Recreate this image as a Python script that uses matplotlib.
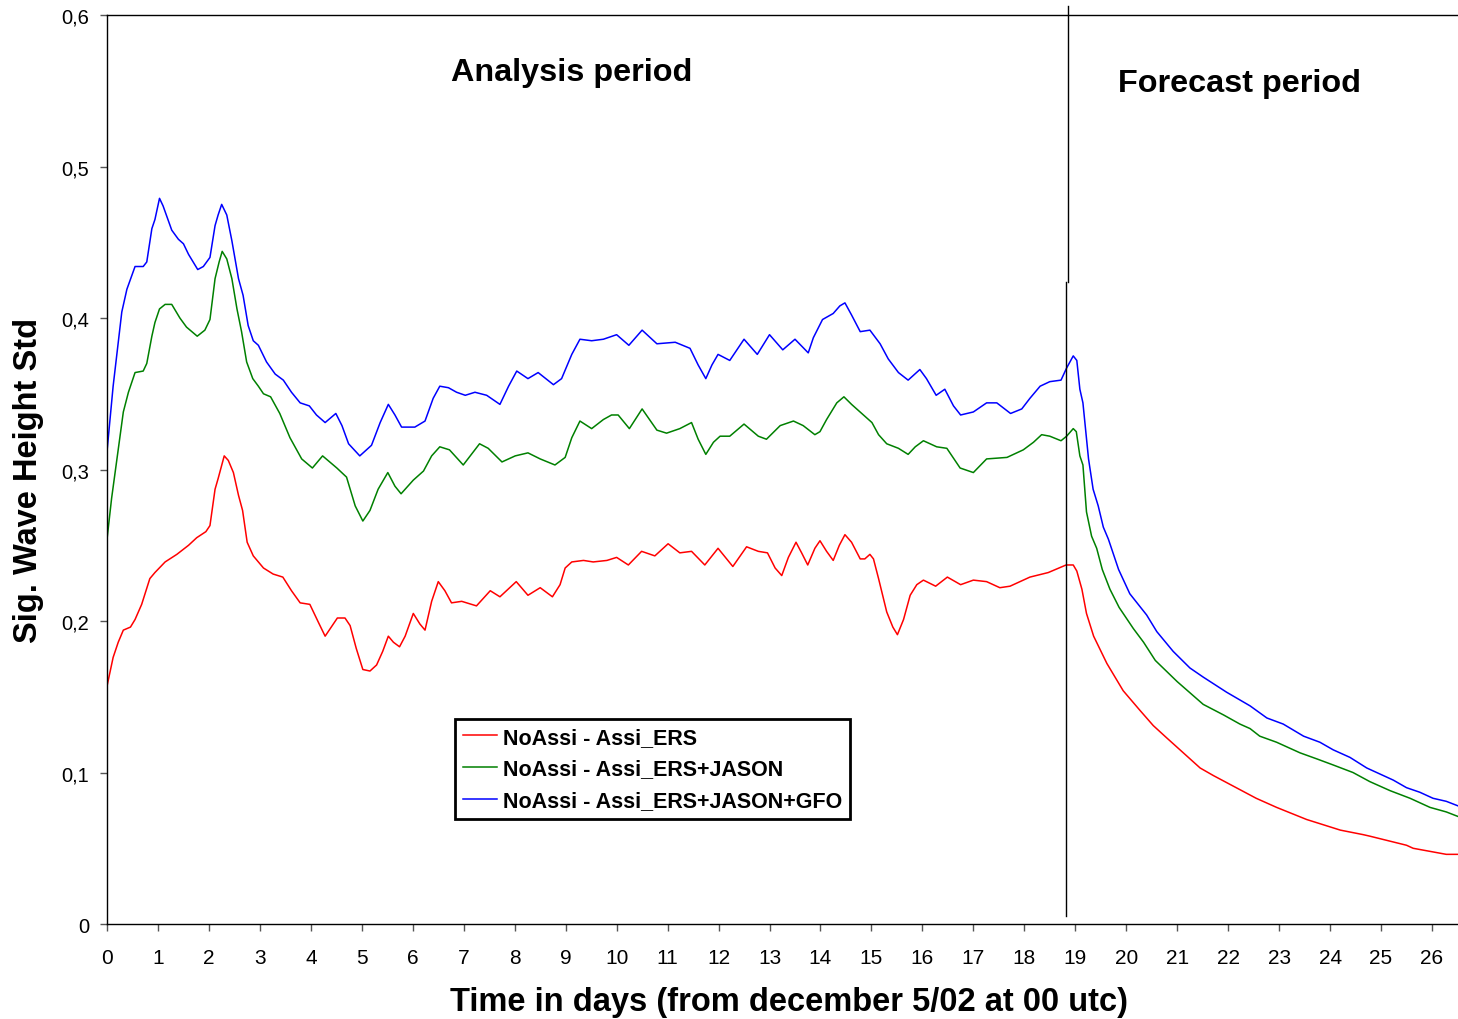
import matplotlib
matplotlib.use("Agg")
import matplotlib.pyplot as plt

plt.rcParams['font.family'] = ['Liberation Sans', 'DejaVu Sans']

# NoAssi - Assi_ERS
red_days = [0.0, 0.12, 0.22, 0.32, 0.46, 0.55, 0.68, 0.84, 0.94, 1.14, 1.37, 1.60, 1.76, 1.94,
            2.02, 2.12, 2.18, 2.30, 2.38, 2.48, 2.58, 2.66, 2.75, 2.87, 3.07, 3.26, 3.45, 3.62,
            3.79, 3.98, 4.15, 4.28, 4.52, 4.67, 4.77, 4.89, 5.02, 5.16, 5.29, 5.41, 5.52, 5.62,
            5.74, 5.85, 6.01, 6.14, 6.24, 6.37, 6.50, 6.63, 6.76, 6.96, 7.25, 7.52, 7.71, 8.03,
            8.26, 8.50, 8.74, 8.89, 8.99, 9.12, 9.35, 9.54, 9.81, 10.00, 10.23, 10.49, 10.75,
            11.01, 11.24, 11.47, 11.73, 11.99, 12.28, 12.55, 12.78, 12.96, 13.11, 13.24, 13.37,
            13.52, 13.63, 13.75, 13.89, 13.99, 14.12, 14.25, 14.37, 14.48, 14.61, 14.78, 14.87,
            14.97, 15.04, 15.14, 15.30, 15.42, 15.51, 15.63, 15.76, 15.89, 16.02, 16.26, 16.49,
            16.75, 17.00, 17.26, 17.52, 17.72, 18.11, 18.47, 18.82, 18.96, 19.03, 19.13, 19.22,
            19.36, 19.62, 19.94, 20.27, 20.53, 20.79, 21.12, 21.45, 21.71, 22.16, 22.55, 22.95,
            23.54, 24.20, 24.65, 24.78, 25.50, 25.63, 25.96, 26.28, 26.51]
red_std = [0.157, 0.176, 0.186, 0.194, 0.196, 0.201, 0.211, 0.228, 0.232, 0.239, 0.244, 0.250,
           0.255, 0.259, 0.263, 0.287, 0.294, 0.309, 0.306, 0.298, 0.283, 0.273, 0.252, 0.243,
           0.235, 0.231, 0.229, 0.220, 0.212, 0.211, 0.199, 0.190, 0.202, 0.202, 0.197, 0.182,
           0.168, 0.167, 0.171, 0.180, 0.190, 0.186, 0.183, 0.190, 0.205, 0.198, 0.194, 0.213,
           0.226, 0.220, 0.212, 0.213, 0.210, 0.220, 0.216, 0.226, 0.217, 0.222, 0.216, 0.224,
           0.235, 0.239, 0.240, 0.239, 0.240, 0.242, 0.237, 0.246, 0.243, 0.251, 0.245, 0.246,
           0.237, 0.248, 0.236, 0.249, 0.246, 0.245, 0.235, 0.230, 0.242, 0.252, 0.245, 0.237,
           0.248, 0.253, 0.246, 0.240, 0.250, 0.257, 0.252, 0.241, 0.241, 0.244, 0.241, 0.228,
           0.206, 0.196, 0.191, 0.201, 0.217, 0.224, 0.227, 0.223, 0.229, 0.224, 0.227, 0.226,
           0.222, 0.223, 0.229, 0.232, 0.237, 0.237, 0.233, 0.221, 0.205, 0.190, 0.172, 0.154,
           0.141, 0.131, 0.123, 0.113, 0.103, 0.098, 0.090, 0.083, 0.077, 0.069, 0.062, 0.059,
           0.058, 0.052, 0.050, 0.048, 0.046, 0.046]

# NoAssi - Assi_ERS+JASON
green_days = [0.0, 0.09, 0.19, 0.255, 0.32, 0.42, 0.55, 0.71, 0.78, 0.88, 0.94, 1.03, 1.14,
              1.27, 1.43, 1.56, 1.77, 1.92, 2.02, 2.12, 2.20, 2.26, 2.35, 2.45, 2.55, 2.64,
              2.74, 2.86, 2.97, 3.07, 3.21, 3.39, 3.59, 3.82, 4.03, 4.23, 4.51, 4.70, 4.87,
              5.02, 5.16, 5.32, 5.51, 5.65, 5.77, 6.01, 6.21, 6.37, 6.53, 6.72, 6.99, 7.31,
              7.48, 7.75, 8.01, 8.26, 8.50, 8.79, 8.99, 9.12, 9.28, 9.51, 9.74, 9.90, 10.03,
              10.25, 10.50, 10.79, 10.98, 11.24, 11.47, 11.60, 11.75, 11.90, 12.03, 12.22,
              12.50, 12.78, 12.94, 13.21, 13.47, 13.66, 13.89, 13.99, 14.12, 14.32, 14.46,
              14.61, 14.81, 15.01, 15.14, 15.30, 15.53, 15.72, 15.86, 16.02, 16.28, 16.48,
              16.74, 17.00, 17.26, 17.66, 17.98, 18.18, 18.34, 18.50, 18.72, 18.83, 18.96,
              19.02, 19.09, 19.15, 19.22, 19.32, 19.42, 19.53, 19.68, 19.86, 20.14, 20.34,
              20.57, 21.00, 21.51, 21.91, 22.23, 22.43, 22.62, 22.95, 23.28, 23.41, 23.74,
              24.06, 24.45, 24.78, 25.18, 25.57, 25.96, 26.28, 26.51]
green_std = [0.254, 0.281, 0.306, 0.322, 0.338, 0.351, 0.364, 0.365, 0.370, 0.388, 0.397,
             0.406, 0.409, 0.409, 0.400, 0.394, 0.388, 0.392, 0.399, 0.426, 0.437, 0.444,
             0.439, 0.426, 0.406, 0.391, 0.371, 0.360, 0.355, 0.350, 0.348, 0.337, 0.321,
             0.307, 0.301, 0.309, 0.301, 0.295, 0.276, 0.266, 0.273, 0.287, 0.298, 0.289,
             0.284, 0.293, 0.299, 0.309, 0.315, 0.313, 0.303, 0.317, 0.314, 0.305, 0.309,
             0.311, 0.307, 0.303, 0.308, 0.321, 0.332, 0.327, 0.333, 0.336, 0.336, 0.327,
             0.340, 0.326, 0.324, 0.327, 0.331, 0.320, 0.310, 0.318, 0.322, 0.322, 0.330,
             0.322, 0.320, 0.329, 0.332, 0.329, 0.323, 0.325, 0.333, 0.344, 0.348, 0.343,
             0.337, 0.331, 0.323, 0.317, 0.314, 0.310, 0.315, 0.319, 0.315, 0.314, 0.301,
             0.298, 0.307, 0.308, 0.313, 0.318, 0.323, 0.322, 0.319, 0.322, 0.327, 0.325,
             0.309, 0.303, 0.272, 0.256, 0.248, 0.234, 0.221, 0.209, 0.195, 0.186, 0.174,
             0.160, 0.145, 0.138, 0.132, 0.129, 0.124, 0.120, 0.115, 0.113, 0.109, 0.105,
             0.100, 0.094, 0.088, 0.083, 0.077, 0.074, 0.071]

# NoAssi - Assi_ERS+JASON+GFO
blue_days = [0.0, 0.12, 0.29, 0.39, 0.55, 0.71, 0.78, 0.88, 0.94, 1.03, 1.10, 1.27, 1.40,
             1.50, 1.60, 1.78, 1.89, 2.02, 2.12, 2.18, 2.25, 2.35, 2.45, 2.58, 2.67, 2.77,
             2.87, 2.97, 3.13, 3.30, 3.46, 3.62, 3.79, 3.97, 4.11, 4.28, 4.49, 4.61, 4.74,
             4.96, 5.19, 5.36, 5.52, 5.65, 5.78, 6.04, 6.24, 6.40, 6.53, 6.70, 6.86, 7.03,
             7.22, 7.45, 7.71, 7.88, 8.04, 8.26, 8.46, 8.76, 8.92, 9.12, 9.28, 9.51, 9.74,
             10.00, 10.24, 10.50, 10.79, 11.15, 11.44, 11.60, 11.75, 11.87, 11.99, 12.22,
             12.50, 12.76, 13.00, 13.26, 13.50, 13.76, 13.86, 14.04, 14.25, 14.38, 14.48,
             14.61, 14.78, 14.97, 15.17, 15.33, 15.53, 15.72, 15.95, 16.08, 16.27, 16.44,
             16.61, 16.75, 17.00, 17.26, 17.46, 17.73, 17.95, 18.11, 18.31, 18.50, 18.72,
             18.83, 18.96, 19.03, 19.09, 19.15, 19.26, 19.35, 19.45, 19.55, 19.65, 19.85,
             20.07, 20.40, 20.60, 20.92, 21.25, 21.51, 21.97, 22.43, 22.76, 23.08, 23.48,
             23.80, 24.06, 24.39, 24.72, 24.98, 25.24, 25.50, 25.76, 26.02, 26.28, 26.51]
blue_std = [0.312, 0.355, 0.404, 0.419, 0.434, 0.434, 0.437, 0.459, 0.465, 0.479, 0.474,
            0.458, 0.452, 0.449, 0.442, 0.432, 0.434, 0.440, 0.461, 0.468, 0.475, 0.468,
            0.451, 0.426, 0.415, 0.395, 0.385, 0.382, 0.371, 0.363, 0.359, 0.351, 0.344,
            0.342, 0.336, 0.331, 0.337, 0.329, 0.317, 0.309, 0.316, 0.331, 0.343, 0.336,
            0.328, 0.328, 0.332, 0.347, 0.355, 0.354, 0.351, 0.349, 0.351, 0.349, 0.343,
            0.355, 0.365, 0.360, 0.364, 0.356, 0.360, 0.376, 0.386, 0.385, 0.386, 0.389,
            0.382, 0.392, 0.383, 0.384, 0.380, 0.369, 0.360, 0.369, 0.376, 0.372, 0.386,
            0.376, 0.389, 0.379, 0.386, 0.377, 0.387, 0.399, 0.403, 0.408, 0.410, 0.402,
            0.391, 0.392, 0.383, 0.373, 0.364, 0.359, 0.366, 0.360, 0.349, 0.353, 0.342,
            0.336, 0.338, 0.344, 0.344, 0.337, 0.340, 0.347, 0.355, 0.358, 0.359, 0.367,
            0.375, 0.372, 0.353, 0.344, 0.307, 0.287, 0.276, 0.262, 0.254, 0.234, 0.218,
            0.204, 0.193, 0.180, 0.169, 0.163, 0.153, 0.144, 0.136, 0.132, 0.124, 0.120,
            0.115, 0.110, 0.103, 0.099, 0.095, 0.090, 0.087, 0.083, 0.081, 0.078]

series_labels = ["NoAssi - Assi_ERS", "NoAssi - Assi_ERS+JASON", "NoAssi - Assi_ERS+JASON+GFO"]
series_colors = ["#ff0000", "#008000", "#0000ff"]
y_ticks = [0.0, 0.1, 0.2, 0.3, 0.4, 0.5, 0.6]
y_tick_labels = ["0", "0,1", "0,2", "0,3", "0,4", "0,5", "0,6"]
x_ticks = list(range(0, 27))
forecast_start = 18.84

fig = plt.figure(figsize=(14.58, 10.2), dpi=100)
ax = fig.add_axes([0.0734, 0.0931, 0.9266, 0.8912])

for days, vals, lab, col in zip([red_days, green_days, blue_days],
                                [red_std, green_std, blue_std],
                                series_labels, series_colors):
    ax.plot(days, vals, color=col, lw=1.1, label=lab)

# analysis / forecast divider
ax.plot([forecast_start + 0.02, forecast_start + 0.02], [0.4238, 0.606], color='black',
        lw=1.0, clip_on=False)
ax.plot([forecast_start - 0.02, forecast_start - 0.02], [0.0053, 0.4238], color='black',
        lw=1.0, clip_on=False)

ax.set_xlim(0, 26.51)
ax.set_ylim(0, 0.6)
ax.set_xticks(x_ticks)
ax.set_xticklabels([str(t) for t in x_ticks], fontsize=15)
ax.set_yticks(y_ticks)
ax.set_yticklabels(y_tick_labels, fontsize=14.5)
ax.tick_params(direction='out', length=5, width=1, color='#555555')
ax.tick_params(axis='x', pad=12)
ax.tick_params(axis='y', pad=8)
ax.spines['right'].set_visible(False)
for s in ['left', 'bottom', 'top']:
    ax.spines[s].set_linewidth(1.0)

ax.set_xlabel("Time in days (from december 5/02 at 00 utc)", fontsize=23.5,
              fontweight='bold')
ax.xaxis.set_label_coords(0.505, -0.068)
ax.set_ylabel("Sig. Wave Height Std", fontsize=23.5, fontweight='bold')
ax.yaxis.set_label_coords(-0.047, 0.4895)

ax.text(0.3442, 0.937, "Analysis period", transform=ax.transAxes, ha='center',
        va='center', fontsize=23.3, fontweight='bold')
ax.text(0.8386, 0.925, "Forecast period", transform=ax.transAxes, ha='center',
        va='center', fontsize=23.3, fontweight='bold')

leg = ax.legend(loc='lower left', bbox_to_anchor=(0.2576, 0.1155), borderaxespad=0,
                fancybox=False, edgecolor='black', framealpha=1, handlelength=1.6,
                handletextpad=0.25, labelspacing=0.5, borderpad=0.36,
                prop={'weight': 'bold', 'size': 15.5})
leg.get_frame().set_linewidth(2)

fig.savefig("out.png", dpi=100)
